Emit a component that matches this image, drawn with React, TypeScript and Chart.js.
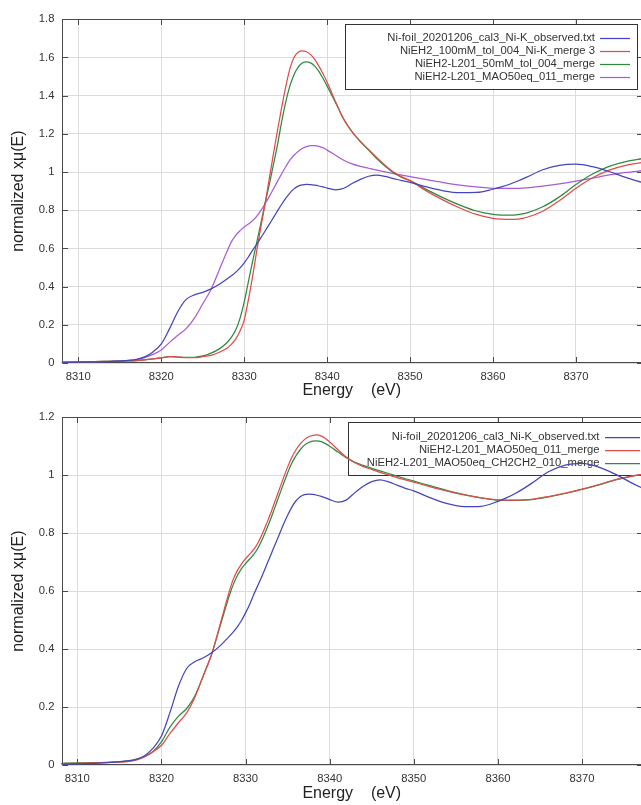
import React, { useEffect, useRef } from "react";
import { Chart, registerables } from "chart.js";

Chart.register(...registerables);

// ---------- data ----------
const ENERGY = [
  8308, 8310, 8312, 8314, 8316, 8317, 8318, 8319, 8320, 8321, 8322, 8323, 8324, 8325, 8326, 8327, 8328,
  8328.5, 8329, 8329.5, 8330, 8330.5, 8331, 8331.5, 8332, 8332.5, 8333, 8333.5, 8334, 8334.5, 8335, 8335.5,
  8336, 8336.5, 8337, 8337.5, 8338, 8338.5, 8339, 8339.5, 8340, 8341, 8342, 8343, 8344, 8345, 8346, 8347,
  8348, 8349, 8350, 8352, 8354, 8356, 8358, 8360, 8361, 8362, 8363, 8364, 8366, 8368, 8370, 8372, 8374,
  8376, 8378,
];

const NI_FOIL = [
  0.003, 0.004, 0.006, 0.009, 0.014, 0.019, 0.032, 0.058, 0.1, 0.18, 0.27, 0.333, 0.357, 0.37, 0.388, 0.412, 0.442,
  0.458, 0.476, 0.498, 0.525, 0.555, 0.59, 0.622, 0.655, 0.69, 0.725, 0.76, 0.795, 0.83, 0.862, 0.89,
  0.912, 0.926, 0.933, 0.935, 0.934, 0.931, 0.927, 0.922, 0.916, 0.907, 0.915, 0.94, 0.962, 0.978, 0.984, 0.977,
  0.966, 0.955, 0.946, 0.922, 0.902, 0.892, 0.893, 0.91, 0.922, 0.936, 0.953, 0.972, 1.012, 1.035, 1.041, 1.028, 1.003,
  0.972, 0.945,
];

const NIEH2_100MM = [
  0.003, 0.005, 0.007, 0.009, 0.011, 0.013, 0.016, 0.021, 0.027, 0.033, 0.031, 0.028, 0.028, 0.033, 0.04, 0.056, 0.08,
  0.1, 0.128, 0.168, 0.225, 0.33, 0.45, 0.585, 0.71, 0.83, 0.96, 1.09, 1.215, 1.335, 1.445, 1.54,
  1.6, 1.627, 1.634, 1.63, 1.615, 1.59, 1.555, 1.515, 1.47, 1.37, 1.275, 1.21, 1.16, 1.118, 1.075, 1.035,
  1.0, 0.975, 0.955, 0.9, 0.853, 0.812, 0.778, 0.757, 0.753, 0.752, 0.754, 0.762, 0.795, 0.85, 0.915, 0.97, 1.01,
  1.035, 1.05,
];

const NIEH2_L201_50MM = [
  0.003, 0.005, 0.007, 0.009, 0.011, 0.013, 0.016, 0.021, 0.027, 0.033, 0.031, 0.029, 0.03, 0.037, 0.052, 0.074, 0.11,
  0.138, 0.175, 0.235, 0.32, 0.425, 0.53, 0.63, 0.73, 0.835, 0.93, 1.035, 1.14, 1.26, 1.365, 1.45,
  1.51, 1.55, 1.571, 1.577, 1.572, 1.555, 1.527, 1.49, 1.45, 1.365, 1.278, 1.212, 1.16, 1.115, 1.07, 1.03,
  0.996, 0.972, 0.955, 0.908, 0.865, 0.827, 0.796, 0.778, 0.774, 0.774, 0.777, 0.785, 0.818, 0.87, 0.935, 0.99, 1.03,
  1.055, 1.07,
];

const MAO50EQ_011 = [
  0.005, 0.006, 0.007, 0.009, 0.012, 0.017, 0.028, 0.045, 0.068, 0.108, 0.145, 0.18, 0.235, 0.31, 0.385, 0.488, 0.592,
  0.638, 0.67, 0.693, 0.712, 0.728, 0.745, 0.768, 0.798, 0.833, 0.87, 0.91, 0.95, 0.99, 1.028, 1.062,
  1.088, 1.108, 1.123, 1.133, 1.138, 1.139, 1.135, 1.127, 1.115, 1.088, 1.062, 1.043, 1.03, 1.02, 1.01, 1.001,
  0.992, 0.984, 0.976, 0.96, 0.945, 0.932, 0.922, 0.915, 0.914, 0.914, 0.915, 0.917, 0.926, 0.938, 0.952, 0.968, 0.985,
  0.998, 1.007,
];

const MAO50EQ_CH2CH2_010 = [
  0.006, 0.007, 0.008, 0.01, 0.014, 0.02, 0.03, 0.047, 0.08, 0.13, 0.168, 0.195, 0.24, 0.31, 0.385, 0.482, 0.578,
  0.62, 0.652, 0.677, 0.695, 0.711, 0.728, 0.75, 0.78, 0.814, 0.85, 0.89, 0.93, 0.97, 1.008, 1.042,
  1.068, 1.088, 1.104, 1.113, 1.118, 1.119, 1.116, 1.109, 1.1, 1.08, 1.06, 1.045, 1.034, 1.024, 1.015, 1.006,
  0.997, 0.988, 0.98, 0.963, 0.947, 0.933, 0.922, 0.914, 0.913, 0.913, 0.914, 0.916, 0.925, 0.937, 0.951, 0.967, 0.984,
  0.997, 1.006,
];

const X_TICKS = [8310, 8320, 8330, 8340, 8350, 8360, 8370];
const TOP_Y_TICKS = [0, 0.2, 0.4, 0.6, 0.8, 1, 1.2, 1.4, 1.6, 1.8];
const BOTTOM_Y_TICKS = [0, 0.2, 0.4, 0.6, 0.8, 1, 1.2];

const LABEL_FOIL = "Ni-foil_20201206_cal3_Ni-K_observed.txt";
const LABEL_100MM = "NiEH2_100mM_tol_004_Ni-K_merge 3";
const LABEL_50MM = "NiEH2-L201_50mM_tol_004_merge";
const LABEL_MAO011 = "NiEH2-L201_MAO50eq_011_merge";
const LABEL_CH2CH2 = "NiEH2-L201_MAO50eq_CH2CH2_010_merge";

const X_TITLE = "Energy    (eV)";
const Y_TITLE = "normalized xμ(E)";

// ---------- styling ----------
const BLUE = "#4545bd";
const RED = "#e34b4b";
const GREEN = "#2f8a3f";
const PURPLE = "#a95bd8";
const FONT = '"Liberation Sans", Arial, Helvetica, sans-serif';
const GRID = "#dcdcdc";
const FRAME = "#4a4a4a";
const TEXT = "#333333";

const toPoints = (ys: number[]) => ENERGY.map((x, i) => ({ x, y: ys[i] }));

const frameLegendPlugin = {
  id: "frameLegend",
  beforeDatasetsDraw(chart: any, _args: any, opts: any) {
    const { ctx, chartArea: a, scales } = chart;
    ctx.save();
    // frame
    const L = Math.round(a.left) + 0.5;
    const R = Math.round(a.right) + 0.5;
    const T = Math.round(a.top) + 0.5;
    const B = Math.round(a.bottom) - 0.5;
    ctx.strokeStyle = FRAME;
    ctx.lineWidth = 1;
    ctx.strokeRect(L, T, R - L, B - T);
    // inward ticks
    const tl = 5.5;
    ctx.beginPath();
    scales.x.ticks.forEach((t: any) => {
      const px = Math.round(scales.x.getPixelForValue(t.value)) + 0.5;
      ctx.moveTo(px, T);
      ctx.lineTo(px, T + tl);
      ctx.moveTo(px, B);
      ctx.lineTo(px, B - tl);
    });
    scales.y.ticks.forEach((t: any) => {
      const py = Math.round(scales.y.getPixelForValue(t.value)) + 0.5;
      ctx.moveTo(L, py);
      ctx.lineTo(L + tl, py);
      ctx.moveTo(R, py);
      ctx.lineTo(R - tl, py);
    });
    ctx.stroke();

    // legend box
    const lg = opts.legend;
    ctx.fillStyle = "#ffffff";
    ctx.fillRect(lg.x1, lg.y1, lg.x2 - lg.x1, lg.y2 - lg.y1);
    ctx.strokeStyle = "#333333";
    ctx.lineWidth = 1;
    ctx.strokeRect(Math.round(lg.x1) + 0.5, Math.round(lg.y1) + 0.5, Math.round(lg.x2 - lg.x1), Math.round(lg.y2 - lg.y1));
    ctx.font = `11.25px ${FONT}`;
    ctx.textAlign = "right";
    ctx.textBaseline = "middle";
    chart.data.datasets.forEach((ds: any, i: number) => {
      const y = lg.row0 + i * lg.rowGap;
      ctx.fillStyle = TEXT;
      ctx.fillText(ds.label, lg.textRight, y);
      ctx.strokeStyle = ds.borderColor;
      ctx.lineWidth = 1.25;
      ctx.beginPath();
      ctx.moveTo(lg.lineX1, Math.round(y) + 0.5);
      ctx.lineTo(lg.lineX2, Math.round(y) + 0.5);
      ctx.stroke();
    });
    ctx.restore();
  },
};

type Series = { label: string; values: number[]; color: string };
type Panel = {
  series: Series[];
  xMin: number;
  xMax: number;
  yTicks: number[];
  padTop: number;
  padBottom: number;
  xHeight: number;
  legend: any;
};

function makeConfig(p: Panel): any {
  const yMax = p.yTicks[p.yTicks.length - 1];
  return {
    type: "line",
    data: {
      datasets: p.series.map((s) => ({
        label: s.label,
        data: toPoints(s.values),
        borderColor: s.color,
        backgroundColor: s.color,
        borderWidth: 1.25,
        pointRadius: 0,
        fill: false,
        cubicInterpolationMode: "monotone",
      })),
    },
    options: {
      animation: false,
      responsive: false,
      maintainAspectRatio: false,
      events: [],
      layout: { padding: { top: p.padTop, right: 1, bottom: p.padBottom, left: 0 } },
      plugins: {
        legend: { display: false },
        tooltip: { enabled: false },
        frameLegend: { legend: p.legend },
      },
      scales: {
        x: {
          type: "linear",
          min: p.xMin,
          max: p.xMax,
          afterBuildTicks: (s: any) => {
            s.ticks = X_TICKS.map((v) => ({ value: v }));
          },
          afterFit: (s: any) => {
            s.height = p.xHeight;
          },
          ticks: {
            padding: 7,
            color: TEXT,
            font: { family: FONT, size: 11.25 },
            maxRotation: 0,
            autoSkip: false,
            callback: (v: any) => String(v),
          },
          grid: { color: GRID, lineWidth: 1, drawTicks: false },
          border: { display: false },
          title: {
            display: true,
            text: X_TITLE,
            color: "#222222",
            font: { family: FONT, size: 16 },
            padding: { top: 0, bottom: 0 },
          },
        },
        y: {
          type: "linear",
          min: 0,
          max: yMax,
          afterBuildTicks: (s: any) => {
            s.ticks = p.yTicks.map((v) => ({ value: v }));
          },
          afterFit: (s: any) => {
            s.width = 61.5;
          },
          ticks: {
            padding: 7,
            color: TEXT,
            font: { family: FONT, size: 11.25 },
            autoSkip: false,
            callback: (v: any) => String(Math.round(v * 10) / 10),
          },
          grid: { color: GRID, lineWidth: 1, drawTicks: false },
          border: { display: false },
          title: {
            display: true,
            text: Y_TITLE,
            color: "#222222",
            font: { family: FONT, size: 16 },
            padding: { top: 9.4, bottom: 0 },
          },
        },
      },
    },
    plugins: [frameLegendPlugin],
  };
}

const TOP_PANEL: Panel = {
  series: [
    { label: LABEL_FOIL, values: NI_FOIL, color: BLUE },
    { label: LABEL_100MM, values: NIEH2_100MM, color: RED },
    { label: LABEL_50MM, values: NIEH2_L201_50MM, color: GREEN },
    { label: LABEL_MAO011, values: MAO50EQ_011, color: PURPLE },
  ],
  xMin: 8307.97,
  xMax: 8377.96,
  yTicks: TOP_Y_TICKS,
  padTop: 19.3,
  padBottom: 9.4,
  xHeight: 37.6,
  legend: { x1: 345, y1: 24, x2: 636.5, y2: 88.5, textRight: 595, lineX1: 600, lineX2: 630, row0: 38.3, rowGap: 12.85 },
};

const BOTTOM_PANEL: Panel = {
  series: [
    { label: LABEL_FOIL, values: NI_FOIL, color: BLUE },
    { label: LABEL_MAO011, values: MAO50EQ_011, color: RED },
    { label: LABEL_CH2CH2, values: MAO50EQ_CH2CH2_010, color: GREEN },
  ],
  xMin: 8308.12,
  xMax: 8377.13,
  yTicks: BOTTOM_Y_TICKS,
  padTop: 17.3,
  padBottom: 1.9,
  xHeight: 38.1,
  legend: { x1: 347.5, y1: 22.3, x2: 700, y2: 75.7, textRight: 599.5, lineX1: 605, lineX2: 640, row0: 36.7, rowGap: 13.3 },
};

function ChartCanvas({ panel, top, height }: { panel: Panel; top: number; height: number }) {
  const ref = useRef<HTMLCanvasElement | null>(null);
  useEffect(() => {
    if (!ref.current) return;
    const chart = new Chart(ref.current, makeConfig(panel));
    return () => chart.destroy();
  }, [panel]);
  return (
    <canvas
      ref={ref}
      width={643}
      height={height}
      style={{ position: "absolute", left: 0, top, width: 643, height }}
    />
  );
}

export default function App() {
  return (
    <div
      style={{
        position: "absolute",
        left: 0,
        top: 0,
        width: 641,
        height: 805,
        overflow: "hidden",
        background: "#ffffff",
      }}
    >
      <ChartCanvas panel={TOP_PANEL} top={0} height={410} />
      <ChartCanvas panel={BOTTOM_PANEL} top={400} height={405} />
    </div>
  );
}
